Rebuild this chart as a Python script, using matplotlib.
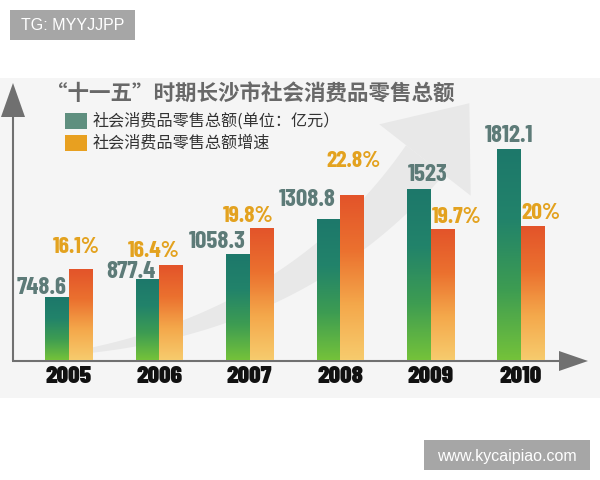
"""Changsha retail sales during the 11th five-year plan: grouped bars, two scales."""
import matplotlib
matplotlib.use("Agg")
import matplotlib.pyplot as plt
import numpy as np
from matplotlib.colors import LinearSegmentedColormap
from matplotlib.patches import Polygon, Rectangle

plt.rcParams["font.family"] = ["Noto Sans CJK SC", "DejaVu Sans"]

YEARS = ["2005", "2006", "2007", "2008", "2009", "2010"]
TOTAL = [748.6, 877.4, 1058.3, 1308.8, 1523, 1812.1]          # 亿元
TOTAL_LABELS = ["748.6", "877.4", "1058.3", "1308.8", "1523", "1812.1"]
GROWTH = [16.1, 16.4, 19.8, 22.8, 19.7, 20.0]                 # %
GROWTH_LABELS = ["16.1%", "16.4%", "19.8%", "22.8%", "19.7%", "20%"]
TITLE = "“十一五”时期长沙市社会消费品零售总额"
SERIES = ["社会消费品零售总额(单位：亿元）", "社会消费品零售总额增速"]

# hand-placed label nudges (px): dx from bar centre, baseline above bar top
TOTAL_NUDGE = [(-16, 3), (-17, 1), (-21, 6), (-21, 13), (9, 8), (0, 7)]
GROWTH_NUDGE = [(-4, 16), (-17, 9), (-13, 7), (2, 29), (14, 7), (8, 7)]

GREEN_STOPS = ["#74c23a", "#3d9c52", "#22836a", "#1d786b"]
ORANGE_STOPS = ["#f7cb6d", "#f4a84b", "#eb712f", "#e3542a"]
NUM_FONT = ["Barlow Condensed", "Archivo Narrow", "DejaVu Sans"]
PX = 72 / 100  # points per pixel at dpi 100


def gradient_bars(a, bars, stops):
    cmap = LinearSegmentedColormap.from_list("grad", stops)
    lo = a.get_ylim()[0]
    for b in bars:
        x0, w, top = b.get_x(), b.get_width(), b.get_height()
        a.imshow(np.linspace(0, 1, 128).reshape(-1, 1), cmap=cmap, aspect="auto",
                 origin="lower", extent=(x0, x0 + w, lo, top), zorder=2)
        b.set_facecolor("none")
        b.set_edgecolor("none")


fig = plt.figure(figsize=(6, 4.8), dpi=100)

# background layer in pixel coordinates: panel, swoosh, axis arrows, watermarks
bg = fig.add_axes([0, 0, 1, 1])
bg.set_xlim(0, 600)
bg.set_ylim(480, 0)
bg.axis("off")
bg.add_patch(Rectangle((0, 78), 600, 320, color="#f5f5f5", lw=0))

t = np.linspace(0, 1, 60)[:, None]
p0, p1, p2 = np.array([80, 352]), np.array([300, 320]), np.array([425, 160])
centre = (1 - t) ** 2 * p0 + 2 * (1 - t) * t * p1 + t ** 2 * p2
tang = 2 * (1 - t) * (p1 - p0) + 2 * t * (p2 - p1)
tang = tang / np.linalg.norm(tang, axis=1, keepdims=True)
norm = np.column_stack([-tang[:, 1], tang[:, 0]])
half = (2 + 22 * t)
shaft = np.vstack([centre + norm * half, (centre - norm * half)[::-1]])
bg.add_patch(Polygon(shaft, color="#e8e8e8", lw=0))
d, n = tang[-1], norm[-1]
bg.add_patch(Polygon([p2 + 58 * n, p2 + 72 * d, p2 - 58 * n], color="#e8e8e8", lw=0))

axis_c = "#707070"
bg.plot([13, 13], [361, 112], color=axis_c, lw=1.5, solid_capstyle="butt")
bg.add_patch(Polygon([(1, 117), (25, 117), (13, 83)], color=axis_c, lw=0))
bg.plot([12, 562], [361, 361], color=axis_c, lw=1.5, solid_capstyle="butt")
bg.add_patch(Polygon([(559, 351), (559, 371), (588, 361)], color=axis_c, lw=0))

for (x0, y0, w, h), s in [((10, 10, 125, 30), "TG: MYYJJPP"),
                          ((424, 440, 166, 30), "www.kycaipiao.com")]:
    bg.add_patch(Rectangle((x0, y0), w, h, color="#a6a6a6", lw=0))
    bg.text(x0 + w / 2, y0 + h / 2 + 1, s, color="white", fontsize=11.5,
            family="Liberation Sans", ha="center", va="center")

bg.text(46, 94, TITLE, fontsize=15.5, fontweight="bold", color="#686868", va="center")
for i, (lab, c) in enumerate(zip(SERIES, ["#5f8f7f", "#e8a020"])):
    y = 113 + 22 * i
    bg.add_patch(Rectangle((65, y), 22, 16, color=c, lw=0))
    bg.text(93, y + 8, lab, fontsize=11.6, color="#333333", va="center")

# chart axes, both series share the categorical x
ax = fig.add_axes([13 / 600, 120 / 480, 574 / 600, 277 / 480])
ax2 = ax.twinx()
x = np.arange(len(YEARS))
w = 0.26
xlim = (-0.619, 5.73)
for a in (ax, ax2):
    a.set_facecolor("none")
    for s in a.spines.values():
        s.set_visible(False)
    a.set_yticks([])
ax.set_ylim(300, 2286)
ax2.set_ylim(7.8, 33.1)

gbars = ax.bar(x - w / 2, TOTAL, w)
obars = ax2.bar(x + w / 2, GROWTH, w)
gradient_bars(ax, gbars, GREEN_STOPS)
gradient_bars(ax2, obars, ORANGE_STOPS)
ax.set_xlim(*xlim)
ax2.set_xlim(*xlim)
ax.set_ylim(300, 2286)
ax2.set_ylim(7.8, 33.1)

for xi, v, lab, (dx, dy) in zip(x, TOTAL, TOTAL_LABELS, TOTAL_NUDGE):
    ax.annotate(lab, (xi - w / 2, v), xytext=(dx * PX, dy * PX), textcoords="offset points",
                ha="center", va="baseline", family=NUM_FONT, fontweight="bold",
                fontsize=18, color="#5d7b78", zorder=5)
for xi, v, lab, (dx, dy) in zip(x, GROWTH, GROWTH_LABELS, GROWTH_NUDGE):
    ax2.annotate(lab, (xi + w / 2, v), xytext=(dx * PX, dy * PX), textcoords="offset points",
                 ha="center", va="baseline", family=NUM_FONT, fontweight="bold",
                 fontsize=17, color="#e3a21f", zorder=5)

ax.set_xticks(x, YEARS, family=NUM_FONT, fontweight=900, fontsize=18, color="#111111")
ax.tick_params(axis="x", length=0, pad=4)
ax2.tick_params(axis="x", length=0, labelbottom=False)

fig.savefig("out.png", dpi=100)
